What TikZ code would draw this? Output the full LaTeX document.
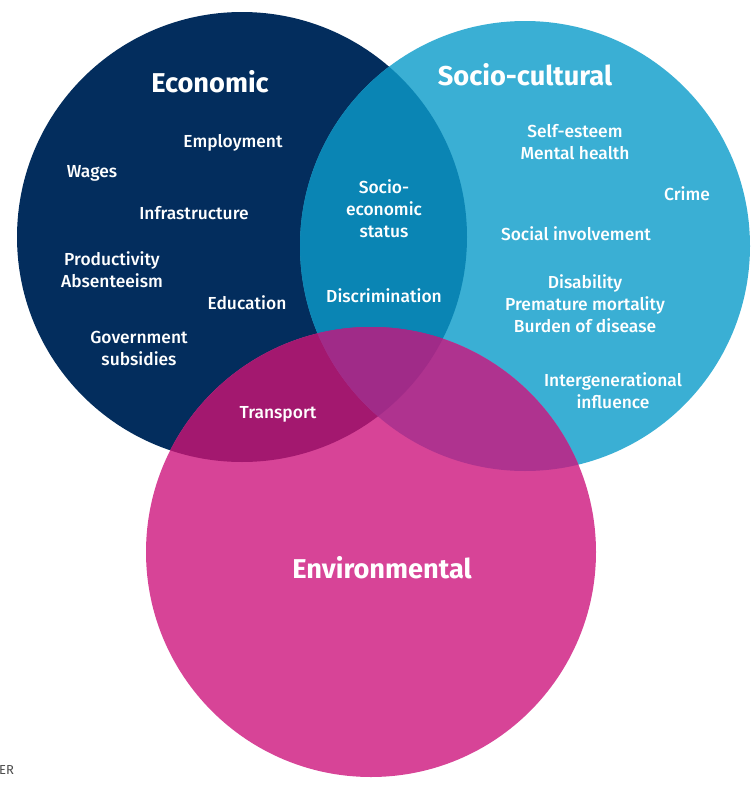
\documentclass[tikz,border=0pt]{standalone}
\usepackage{fontspec}
\setmainfont{Fira Sans}
\newfontfamily\itemfont{Fira Sans Medium}
\usepackage{tikz}
\usetikzlibrary{positioning}

\definecolor{econblue}{HTML}{032D5D}
\definecolor{socioblue}{HTML}{3AAFD4}
\definecolor{envpink}{HTML}{D74497}
\definecolor{econsocio}{HTML}{0A85B4}
\definecolor{econenv}{HTML}{A3186F}
\definecolor{socioenv}{HTML}{AF338F}
\definecolor{allthree}{HTML}{A02B88}

\tikzset{
  item/.style={text=white, align=center, font=\itemfont\fontsize{17.4}{22}\selectfont, inner sep=0pt},
  heading/.style={text=white, align=center, font=\bfseries\fontsize{27.2}{30}\selectfont, inner sep=0pt}
}

\begin{document}
\begin{tikzpicture}[x=1pt, y=-1pt]
		\useasboundingbox (0,0) rectangle (755,787);
		\coordinate (econ) at (242,237);
		\coordinate (socio) at (525,246);
		\coordinate (env) at (371,552);
		% the three circles
		\fill[econblue] (econ) circle (225pt);
		\fill[socioblue] (socio) circle (225pt);
		\fill[envpink] (env) circle (225pt);
		% overlaps
		\begin{scope}
			\clip (econ) circle (225pt);
			\fill[econsocio] (socio) circle (225pt);
			\fill[econenv] (env) circle (225pt);
		\end{scope}
		\begin{scope}
			\clip (socio) circle (225pt);
			\fill[socioenv] (env) circle (225pt);
			\clip (econ) circle (225pt);
			\fill[allthree] (env) circle (225pt);
		\end{scope}
		% headings
		\node[heading] (econtitle) at (210,82) {Economic};
		\node[heading] (sociotitle) at (525,75) {Socio-cultural};
		\node[heading] (envtitle) at (382,568) {Environmental};
		% economic
		\node[item] (employment) at (233,143) {Employment};
		\node[item] (wages) at (92,173) {Wages};
		\node[item] (infra) at (194,213) {Infrastructure};
		\node[item] (product) at (112,270) {Productivity\\Absenteeism};
		\node[item] (education) at (247,303) {Education};
		\node[item] (subsidies) at (139,348) {Government\\subsidies};
		% economic and socio-cultural
		\node[item] (ses) at (384,209) {Socio-\\economic\\status};
		\node[item] (discrim) at (384,296) {Discrimination};
		% socio-cultural
		\node[item] (esteem) at (575,142) {Self-esteem\\Mental health};
		\node[item] (crime) at (687,194) {Crime};
		\node[item] (social) at (576,234) {Social involvement};
		\node[item] (disability) at (585,304) {Disability\\Premature mortality\\Burden of disease};
		\node[item] (intergen) at (613,391) {Intergenerational\\influence};
		% economic and environmental
		\node[item] (transport) at (278,414) {Transport};
		% corner text
		\node[anchor=west, text=black!70, inner sep=0pt, font=\fontsize{13}{15}\selectfont] (er) at (-1,770) {ER};
	\end{tikzpicture}
\end{document}
